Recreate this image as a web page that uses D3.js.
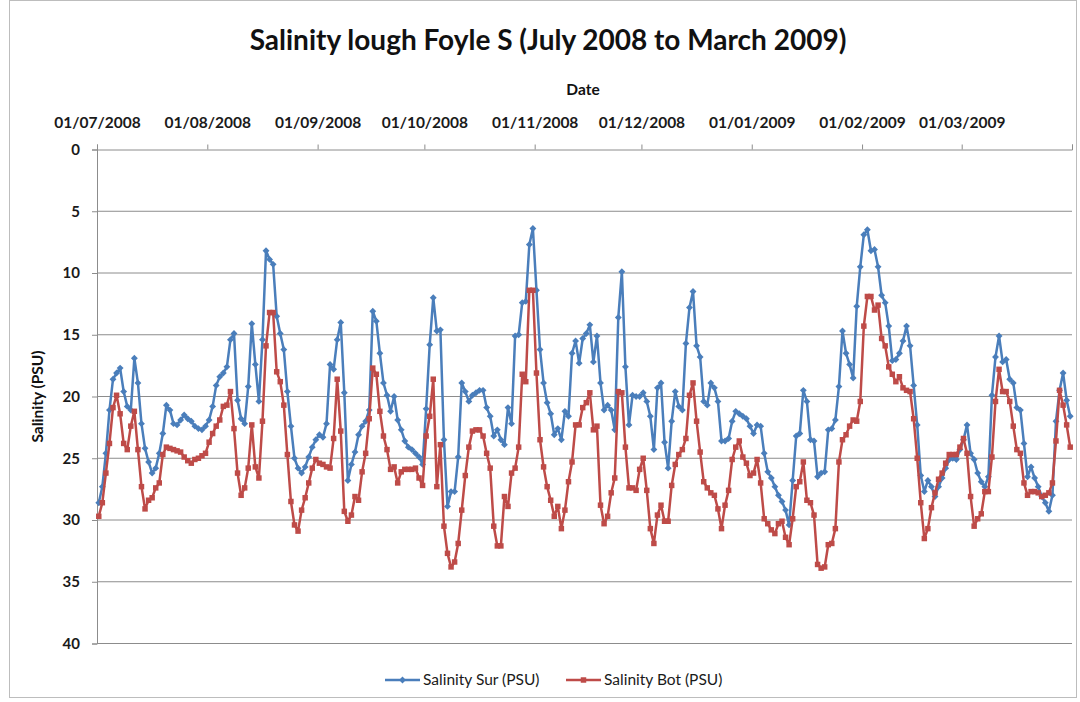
<!DOCTYPE html>
<html>
<head>
<meta charset="utf-8">
<script src="https://cdn.jsdelivr.net/npm/d3@7"></script>
<style>
  body { margin: 0; background: #ffffff; }
  svg { display: block; font-family: Lato, "Open Sans", sans-serif; }
</style>
</head>
<body>
<svg id="chart" width="1080" height="702"></svg>
<script>
// Daily salinity readings, Lough Foyle south station, 1 July 2008 onwards
const startDate = "2008-07-01";
const endDate = "2009-04-01";
const tickDates = ["2008-07-01", "2008-08-01", "2008-09-01", "2008-10-01", "2008-11-01",
                   "2008-12-01", "2009-01-01", "2009-02-01", "2009-03-01", "2009-04-01"];
const yTicks = [0, 5, 10, 15, 20, 25, 30, 35, 40];
const seriesNames = ["Salinity Sur (PSU)", "Salinity Bot (PSU)"];

const salinitySur = [
  28.6,27.3,24.6,21.1,18.6,18.1,17.7,19.6,20.8,21.1,
  16.9,18.9,22.2,24.2,25.3,26.2,25.8,24.6,23.0,20.7,
  21.1,22.2,22.3,21.9,21.5,21.8,22.0,22.4,22.6,22.7,
  22.4,21.9,20.8,19.1,18.4,18.1,17.6,15.4,14.9,20.3,
  21.8,22.2,19.2,14.1,17.4,20.4,15.4,8.2,8.9,9.3,
  13.5,14.9,16.2,19.6,22.4,25.0,25.8,26.2,25.7,24.9,
  24.1,23.5,23.1,23.3,22.2,17.4,17.8,15.4,14.0,19.7,
  26.8,25.5,24.5,23.1,22.4,22.0,21.1,13.1,13.9,16.5,
  18.9,19.9,21.2,20.0,21.9,22.7,23.6,24.1,24.3,24.6,
  24.9,25.5,21.0,15.8,12.0,14.7,14.6,23.5,28.9,27.7,
  27.7,24.9,18.9,19.6,20.4,19.9,19.7,19.5,19.5,20.9,
  21.6,23.2,22.7,23.5,23.9,20.9,22.2,15.1,15.0,12.4,
  12.3,7.7,6.4,11.4,16.2,18.9,20.5,21.4,23.1,22.6,
  23.5,21.2,21.6,16.5,15.5,17.3,15.3,14.9,14.2,17.2,
  15.1,18.9,21.1,20.7,21.1,22.7,13.6,9.9,17.6,22.3,
  19.9,20.0,20.0,19.7,20.4,21.6,24.3,19.3,18.9,23.7,
  25.8,22.0,19.6,20.8,21.1,15.7,12.8,11.5,15.9,16.8,
  20.4,20.7,18.9,19.3,20.4,23.6,23.6,23.4,22.0,21.2,
  21.4,21.6,21.8,22.4,23.0,22.3,22.4,24.6,26.1,26.6,
  27.3,28.0,28.5,29.2,30.4,26.8,23.2,23.0,19.5,20.4,
  23.5,23.6,26.5,26.2,26.1,22.7,22.6,21.9,19.2,14.7,
  16.5,17.4,18.5,12.7,9.5,6.9,6.5,8.2,8.1,9.5,
  11.8,12.4,14.3,17.1,17.0,16.5,15.5,14.3,15.9,19.1,
  22.3,26.4,27.7,26.8,27.3,28.1,27.3,26.6,25.8,25.1,
  25.0,25.1,24.3,23.5,22.3,24.6,25.1,26.2,26.9,27.3,
  26.5,19.9,16.8,15.1,17.2,17.0,18.6,18.9,20.9,21.1,
  23.8,26.5,25.7,26.6,27.3,28.1,28.6,29.3,28.0,22.0,
  19.5,18.1,20.3,21.6
];

const salinityBot = [
  29.7,28.6,26.2,23.8,20.9,19.9,21.4,23.8,24.3,22.4,
  21.2,24.3,27.3,29.1,28.4,28.2,27.4,27.0,24.7,24.1,
  24.2,24.3,24.4,24.5,24.9,25.2,25.4,25.1,25.0,24.8,
  24.6,23.7,23.0,22.4,21.9,20.8,20.7,19.6,22.6,26.2,
  28.0,27.4,25.8,22.3,25.7,26.6,22.0,15.9,13.2,13.2,
  18.0,18.8,20.7,24.7,28.5,30.4,30.9,29.2,28.2,27.0,
  25.8,25.1,25.4,25.5,25.7,25.8,23.4,18.6,22.8,29.3,
  30.1,29.6,28.1,28.4,26.1,24.6,21.8,17.7,18.2,21.2,
  23.2,24.3,25.9,25.7,27.0,26.1,25.9,25.9,25.9,25.8,
  26.6,27.2,23.2,21.6,18.6,27.3,23.9,30.5,32.7,33.8,
  33.4,31.9,29.2,26.4,24.1,22.8,22.7,22.7,23.2,24.6,
  25.8,30.5,32.1,32.1,28.1,28.9,26.2,25.8,24.1,18.2,
  18.8,11.4,11.4,18.1,23.5,25.7,27.3,28.4,29.7,28.9,
  30.7,29.2,26.9,25.3,22.3,22.3,20.9,20.5,19.7,22.7,
  22.4,28.8,30.3,29.7,27.8,26.6,19.6,19.7,24.1,27.4,
  27.4,27.6,25.9,25.0,27.6,30.7,31.9,29.6,28.8,30.1,
  30.1,27.2,25.5,24.7,24.3,23.4,19.9,18.9,22.0,24.5,
  26.9,27.4,27.8,28.0,29.1,30.7,28.8,27.6,25.1,24.1,
  23.6,24.9,25.4,26.4,26.2,25.1,27.0,29.9,30.3,30.8,
  31.1,30.3,30.1,31.4,32.0,29.9,27.3,26.9,25.3,28.4,
  28.6,29.6,33.6,33.9,33.8,32.0,31.9,30.7,25.3,23.5,
  23.1,22.4,21.9,22.0,20.4,14.3,11.9,11.9,13.0,12.6,
  15.3,15.9,17.6,18.2,18.8,18.4,19.3,19.5,19.6,21.8,
  25.0,28.6,31.5,30.7,29.0,27.8,26.7,26.2,25.4,24.7,
  24.7,24.7,24.1,23.4,24.6,28.1,30.5,29.9,29.5,27.7,
  27.7,24.9,20.4,17.8,19.6,19.6,20.4,22.4,24.3,24.6,
  27.0,28.0,27.7,27.7,27.8,28.1,28.0,27.8,27.0,23.6,
  19.5,20.7,22.3,24.1
];

const colors = ["#4a7ebb", "#be4b48"];

const svg = d3.select("#chart");
const plot = { left: 97, right: 1072, top: 149.5, bottom: 643.5 };

// chart frame
svg.append("rect")
  .attr("x", 9.5).attr("y", 0.5)
  .attr("width", 1067).attr("height", 697)
  .attr("fill", "#ffffff").attr("stroke", "#bdbdbd").attr("stroke-width", 1);

const parse = d3.utcParse("%Y-%m-%d");
const t0 = parse(startDate);
const x = d3.scaleUtc().domain([t0, parse(endDate)]).range([plot.left, plot.right]);
const y = d3.scaleLinear().domain([0, 40]).range([plot.top, plot.bottom]);

// each daily value sits in the middle of its day
const pointDate = i => new Date(d3.utcDay.offset(t0, i).getTime() + 12 * 3600 * 1000);
const series = [salinitySur, salinityBot].map((vals, k) => ({
  name: seriesNames[k],
  color: colors[k],
  points: vals.map((v, i) => ({ date: pointDate(i), value: v }))
}));

// horizontal gridlines
svg.append("g")
  .selectAll("line")
  .data(yTicks.filter(v => v > 0))
  .join("line")
  .attr("x1", plot.left).attr("x2", plot.right)
  .attr("y1", d => y(d)).attr("y2", d => y(d))
  .attr("stroke", "#8c8c8c").attr("stroke-width", 1);

// value axis (reversed, 0 at top)
const yAxis = svg.append("g")
  .attr("transform", `translate(${plot.left},0)`)
  .call(d3.axisLeft(y).tickValues(yTicks).tickSize(5).tickPadding(12));
yAxis.select(".domain").attr("stroke", "#8c8c8c");
yAxis.selectAll(".tick line").attr("stroke", "#8c8c8c");
yAxis.selectAll("text")
  .attr("font-family", "Lato, sans-serif")
  .attr("font-size", 15).attr("font-weight", "bold").attr("fill", "#1a1a1a");

// date axis along the top
const fmt = d3.utcFormat("%d/%m/%Y");
const xAxis = svg.append("g")
  .attr("transform", `translate(0,${plot.top})`)
  .call(d3.axisTop(x)
    .tickValues(tickDates.map(parse))
    .tickSize(5).tickPadding(17)
    .tickFormat((d, i) => i < tickDates.length - 1 ? fmt(d) : ""));
xAxis.select(".domain").attr("stroke", "#8c8c8c");
xAxis.selectAll(".tick line").attr("stroke", "#8c8c8c");
xAxis.selectAll("text")
  .attr("font-family", "Lato, sans-serif")
  .attr("font-size", 15.5).attr("font-weight", "bold").attr("fill", "#1a1a1a");

// titles
svg.append("text")
  .attr("x", 548).attr("y", 50)
  .attr("text-anchor", "middle")
  .attr("font-size", 28).attr("font-weight", "bold").attr("fill", "#111")
  .text("Salinity lough Foyle S (July 2008 to March 2009)");

svg.append("text")
  .attr("x", 583).attr("y", 95)
  .attr("text-anchor", "middle")
  .attr("font-size", 15.5).attr("font-weight", "bold").attr("fill", "#111")
  .text("Date");

svg.append("text")
  .attr("transform", `translate(43,${(plot.top + plot.bottom) / 2}) rotate(-90)`)
  .attr("text-anchor", "middle")
  .attr("font-size", 15.5).attr("font-weight", "bold").attr("fill", "#111")
  .text("Salinity (PSU)");

// series lines and markers
const line = d3.line().x(d => x(d.date)).y(d => y(d.value));
const diamond = d3.symbol(d3.symbolDiamond2, 30);
const square = d3.symbol(d3.symbolSquare, 30);
const markers = [diamond, square];

series.forEach((s, k) => {
  const g = svg.append("g");
  g.append("path")
    .datum(s.points)
    .attr("d", line)
    .attr("fill", "none")
    .attr("stroke", s.color)
    .attr("stroke-width", 2.5)
    .attr("stroke-linejoin", "round");
  g.selectAll("path.marker")
    .data(s.points)
    .join("path")
    .attr("class", "marker")
    .attr("d", markers[k])
    .attr("transform", d => `translate(${x(d.date)},${y(d.value)})`)
    .attr("fill", s.color);
});

// legend
const legendItems = [
  { x: 385, name: seriesNames[0], color: colors[0], sym: diamond },
  { x: 566, name: seriesNames[1], color: colors[1], sym: square }
];
const ly = 680;
const lg = svg.append("g");
legendItems.forEach(it => {
  lg.append("line")
    .attr("x1", it.x).attr("x2", it.x + 35)
    .attr("y1", ly).attr("y2", ly)
    .attr("stroke", it.color).attr("stroke-width", 2.5);
  lg.append("path")
    .attr("d", it.sym)
    .attr("transform", `translate(${it.x + 17.5},${ly})`)
    .attr("fill", it.color);
  lg.append("text")
    .attr("x", it.x + 38).attr("y", ly + 5)
    .attr("font-size", 15.5).attr("fill", "#1a1a1a")
    .text(it.name);
});
</script>
</body>
</html>
